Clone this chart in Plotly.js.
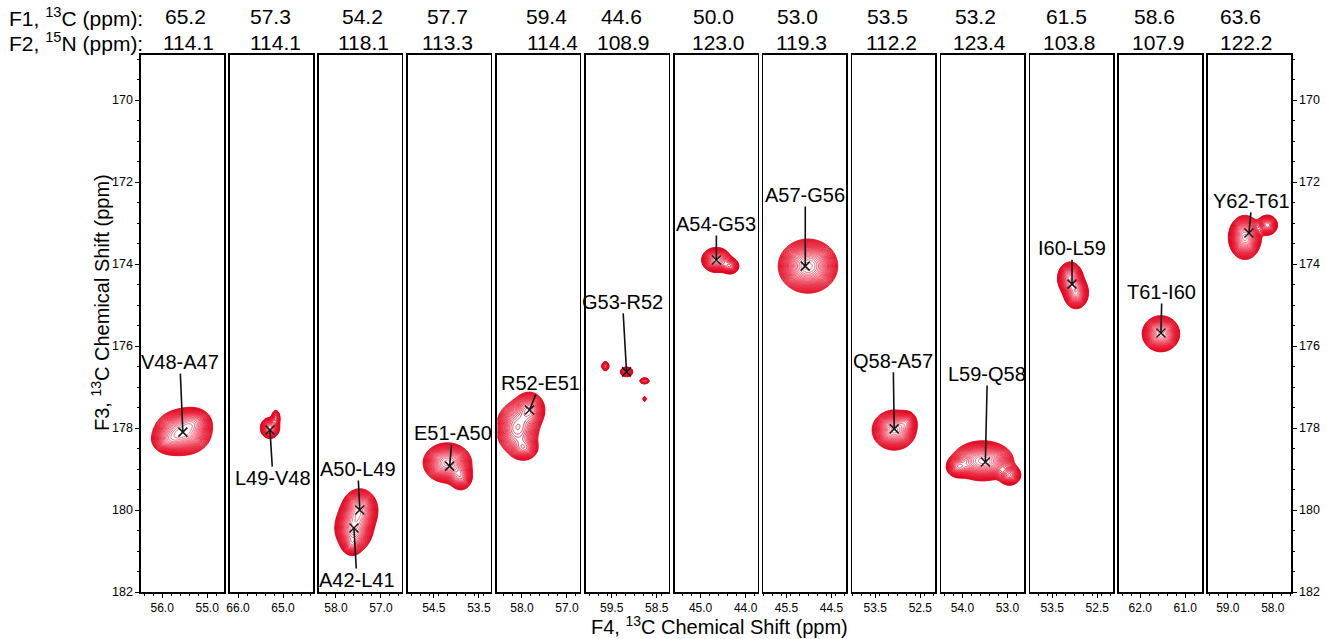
<!DOCTYPE html>
<html><head><meta charset="utf-8">
<script src="https://cdn.plot.ly/plotly-3.0.1.min.js"></script>
<style>html,body{margin:0;padding:0;background:#fff}#chart{width:1330px;height:639px}</style>
</head><body><div id="chart"></div>
<script>
// ---------- data ----------
const f1Values = ['65.2','57.3','54.2','57.7','59.4','44.6','50.0','53.0','53.5','53.2','61.5','58.6','63.6'];
const f2Values = ['114.1','114.1','118.1','113.3','114.4','108.9','123.0','119.3','112.2','123.4','103.8','107.9','122.2'];
// F4 (13C) window of each strip: left (high ppm) edge and first labelled tick
const stripLeft  = [56.47,66.18,58.38,55.08,58.56,60.08,45.58,46.01,54.01,54.47,53.99,62.47,59.44];
const stripFirstTick = [56.0,66.0,58.0,54.5,58.0,59.5,45.0,45.5,53.5,54.0,53.5,62.0,59.0];
const stripWidth = 1.844;
const f3Range = [182, 168.9];

// assigned cross peaks
const peakStrip = [0,1,2,2,3,4,5,6,7,8,9,10,11,12];
const peakLabel = ['V48-A47','L49-V48','A50-L49','A42-L41','E51-A50','R52-E51','G53-R52','A54-G53','A57-G56','Q58-A57','L59-Q58','I60-L59','T61-I60','Y62-T61'];
const peakF4 = [55.54,65.29,57.47,57.60,54.15,57.83,59.17,44.65,45.08,53.08,53.49,53.06,61.54,58.53];
const peakF3 = [178.10,178.05,180.00,180.44,178.93,177.56,176.63,173.90,174.05,178.02,178.83,174.49,175.68,173.24];

// contour components: strip, F4 centre, F3 centre, widths, relative intensity
const compStrip = [0,0,0, 1,1, 2,2,2, 3,3, 4,4,4, 5,5,5,5, 6,6, 7, 8,8, 9,9,9, 10,10, 11, 12,12];
const compF4 = [55.54,55.30,55.85, 65.29,65.16, 57.47,57.60,57.65, 54.20,53.90, 57.83,58.10,57.95, 59.17,59.64,58.77,58.77, 44.65,44.34, 45.02, 53.08,52.80, 53.55,52.95,54.10, 53.10,52.97, 61.54, 58.62,58.12];
const compF3 = [178.10,177.85,178.30, 178.00,177.75, 180.00,180.44,180.85, 178.85,179.20, 177.55,178.00,178.50, 176.63,176.49,176.85,177.29, 173.90,174.05, 174.05, 178.05,177.85, 178.80,179.15,178.95, 174.35,174.70, 175.70, 173.35,173.05];
const compWF4 = [0.26,0.17,0.17, 0.10,0.05, 0.17,0.18,0.10, 0.22,0.12, 0.16,0.22,0.15, 0.07,0.05,0.07,0.03, 0.15,0.10, 0.27, 0.20,0.10, 0.28,0.12,0.12, 0.12,0.12, 0.17, 0.15,0.11];
const compWF3 = [0.23,0.15,0.15, 0.12,0.10, 0.22,0.25,0.12, 0.20,0.15, 0.20,0.30,0.14, 0.06,0.07,0.05,0.05, 0.14,0.10, 0.27, 0.20,0.12, 0.20,0.12,0.12, 0.17,0.17, 0.18, 0.22,0.12];
const compAmp = [1.0,0.45,0.4, 0.5,0.25, 0.8,0.8,0.3, 1.0,0.4, 0.45,0.5,0.3, 0.35,0.18,0.15,0.10, 0.55,0.3, 1.0, 1.0,0.35, 1.0,0.4,0.4, 0.8,0.7, 1.0, 1.0,0.4];

// ---------- layout constants ----------
const N = 13;
const W = 1330, H = 639;
const mL = 141, mR = 39, mT = 55, mB = 47;
const plotW = W - mL - mR, plotH = H - mT - mB;
const panelPx = 83, pitch = (plotW - panelPx) / (N - 1);
const FONT = 'Arial, "Liberation Sans", sans-serif';
const labelAx = [-3, 3, -2, 3, 3, 11, -4, 0, 0, -1, 2, 0, 1, 3];
const labelAy = [-70, 48, -41, 52, -33, -27, -70, -36, -71, -68, -88, -36, -41, -32];
const f1Shift = [3, -1, 2, -2, 8, -6, -3, -7, -6, -7, -5, -6, -9];
const f2Shift = [6, 4, 3, -2, 14, -4, 2, -3, -2, -3, -2, -2, -3];
const hdrY1 = 17, hdrY2 = 42;

const traces = [];
const layout = {
  width: W, height: H, showlegend: false,
  margin: {l: mL, r: mR, t: mT, b: mB, pad: 0},
  paper_bgcolor: '#fff', plot_bgcolor: '#fff',
  font: {family: FONT, color: '#000'},
  annotations: []
};

for (let p = 0; p < N; p++) {
  const xa = 'xaxis' + (p === 0 ? '' : p + 1);
  const ya = 'yaxis' + (p === 0 ? '' : p + 1);
  const xr = 'x' + (p === 0 ? '' : p + 1);
  const yr = 'y' + (p === 0 ? '' : p + 1);
  const d0 = (p * pitch) / plotW, d1 = (p * pitch + panelPx) / plotW;
  layout[xa] = {
    domain: [d0, Math.min(d1, 1)], anchor: yr,
    range: [stripLeft[p], stripLeft[p] - stripWidth],
    tick0: stripFirstTick[p], dtick: 1, tickformat: '.1f',
    ticks: 'outside', ticklen: 4, tickwidth: 1, tickcolor: '#000',
    minor: {dtick: 0.2, ticks: 'outside', ticklen: 2, tickcolor: '#000'},
    showline: true, linecolor: '#000', linewidth: 1.6, mirror: true,
    showgrid: false, zeroline: false,
    tickfont: {size: 12, family: FONT, color: '#000'}, fixedrange: true
  };
  const yax = {
    domain: [0, 1], anchor: xr, range: f3Range,
    showline: true, linecolor: '#000', linewidth: 1.6, mirror: true,
    showgrid: false, zeroline: false, fixedrange: true
  };
  if (p === 0 || p === N - 1) {
    Object.assign(yax, {
      side: p === 0 ? 'left' : 'right',
      tick0: 170, dtick: 2, ticks: 'outside', ticklen: 4, tickcolor: '#000',
      minor: {dtick: 0.5, ticks: 'outside', ticklen: 2, tickcolor: '#000'},
      tickfont: {size: 12.5, family: FONT, color: '#000'}, showticklabels: true
    });
  } else {
    Object.assign(yax, {ticks: '', showticklabels: false});
  }
  layout[ya] = yax;

  // contour spectrum for this strip from its components
  const idx = compStrip.map((s, i) => s === p ? i : -1).filter(i => i >= 0);
  const cys = idx.map(i => compF3[i]);
  const yLo = Math.max(168.9, Math.min(...cys) - 1.3), yHi = Math.min(182, Math.max(...cys) + 1.3);
  const xLo = stripLeft[p] - stripWidth, xHi = stripLeft[p];
  const xs = [], ys = [];
  for (let x = xLo; x <= xHi + 1e-9; x += 0.015) xs.push(x);
  for (let y = yLo; y <= yHi + 1e-9; y += 0.022) ys.push(y);
  const z = ys.map(y => xs.map(x => {
    let s = 0;
    for (const i of idx) {
      const dx = (x - compF4[i]) / compWF4[i], dy = (y - compF3[i]) / compWF3[i];
      s += compAmp[i] * Math.exp(-0.5 * (dx * dx + dy * dy));
    }
    return Math.log(s + 1e-5);
  }));
  traces.push({
    type: 'contour', x: xs, y: ys, z: z, xaxis: xr, yaxis: yr,
    autocontour: false,
    contours: {start: -3.0, end: -0.06, size: 0.105, coloring: 'lines'},
    colorscale: [[0, '#e2001a'], [0.55, '#e8142f'], [1, '#f0566f']],
    line: {width: 0.9, smoothing: 1.1}, showscale: false, hoverinfo: 'skip'
  });

  // crosses
  const pk = peakStrip.map((s, i) => s === p ? i : -1).filter(i => i >= 0);
  traces.push({
    type: 'scatter', mode: 'markers', xaxis: xr, yaxis: yr,
    x: pk.map(i => peakF4[i]), y: pk.map(i => peakF3[i]),
    marker: {symbol: 'x-thin', size: 9, line: {width: 1.5, color: '#1a1a1a'}},
    hoverinfo: 'skip'
  });
  pk.forEach(i => {
    layout.annotations.push({
      xref: xr, yref: yr, x: peakF4[i], y: peakF3[i], text: peakLabel[i],
      showarrow: true, arrowhead: 0, arrowwidth: 1.6, arrowcolor: '#111',
      ax: labelAx[i], ay: labelAy[i], standoff: 0, borderpad: 0,
      font: {size: 20, family: FONT, color: '#000'}
    });
  });

  // header values
  layout.annotations.push({
    xref: xr + ' domain', yref: 'paper', x: 0.5, y: 1 + (mT - hdrY1) / plotH,
    xshift: f1Shift[p], text: f1Values[p], showarrow: false, yanchor: 'middle',
    font: {size: 21, family: FONT, color: '#000'}
  });
  layout.annotations.push({
    xref: xr + ' domain', yref: 'paper', x: 0.5, y: 1 + (mT - hdrY2) / plotH,
    xshift: f2Shift[p], text: f2Values[p], showarrow: false, yanchor: 'middle',
    font: {size: 21, family: FONT, color: '#000'}
  });
}

layout.annotations.push({
  xref: 'paper', yref: 'paper', x: (7 - mL) / plotW, y: 1 + (mT - hdrY1) / plotH,
  xanchor: 'left', yanchor: 'middle', showarrow: false,
  text: 'F1, <sup>13</sup>C (ppm):', font: {size: 21, family: FONT, color: '#000'}
});
layout.annotations.push({
  xref: 'paper', yref: 'paper', x: (7 - mL) / plotW, y: 1 + (mT - hdrY2) / plotH,
  xanchor: 'left', yanchor: 'middle', showarrow: false,
  text: 'F2, <sup>15</sup>N (ppm):', font: {size: 21, family: FONT, color: '#000'}
});
layout.annotations.push({
  xref: 'paper', yref: 'paper', x: (719 - mL) / plotW, y: -(625 - (H - mB)) / plotH,
  xanchor: 'center', yanchor: 'middle', showarrow: false,
  text: 'F4, <sup>13</sup>C Chemical Shift (ppm)', font: {size: 20, family: FONT, color: '#000'}
});
layout.annotations.push({
  xref: 'paper', yref: 'paper', x: (100 - mL) / plotW, y: ((H - mB) - 303) / plotH,
  xanchor: 'center', yanchor: 'middle', showarrow: false, textangle: -90,
  text: 'F3, <sup>13</sup>C Chemical Shift (ppm)', font: {size: 20, family: FONT, color: '#000'}
});

Plotly.newPlot('chart', traces, layout, {staticPlot: true, displayModeBar: false});
</script>
</body></html>
